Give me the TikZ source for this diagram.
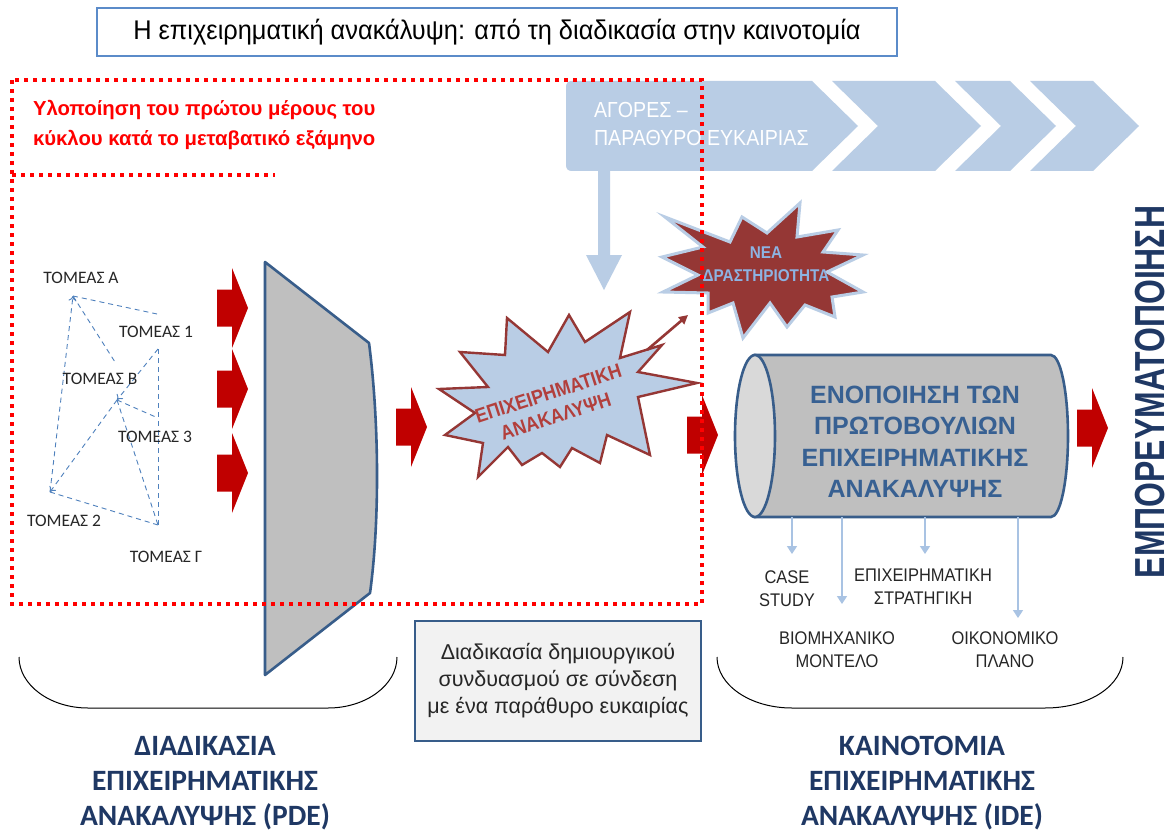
\documentclass[tikz,border=0pt]{standalone}
\usepackage{fontspec}
\setmainfont{Liberation Sans}
\newfontfamily\nf[FakeStretch=0.9]{Liberation Sans}
\newfontfamily\tf[FakeStretch=0.94]{Liberation Sans}
\newfontfamily\vnf[FakeStretch=0.76]{Liberation Sans}
\newfontfamily\calf{Carlito}
\usetikzlibrary{arrows.meta}
\definecolor{darkred}{HTML}{C00000}
\definecolor{brick}{HTML}{953735}
\definecolor{brickt}{HTML}{B23F3C}
\definecolor{lblue}{HTML}{B9CDE5}
\definecolor{steel}{HTML}{385D8A}
\definecolor{navy}{HTML}{1F3864}
\definecolor{cyltext}{HTML}{376092}
\definecolor{dashblue}{HTML}{4F81BD}
\definecolor{boxgrey}{HTML}{F2F2F2}
\definecolor{shapegrey}{HTML}{BFBFBF}
\definecolor{facegrey}{HTML}{D9D9D9}
\definecolor{titleblue}{HTML}{5B8BC9}
\definecolor{starblue}{HTML}{8DB3E2}
\definecolor{thinblue}{HTML}{A9C3E3}
\tikzset{
  redarr/.pic={\fill[darkred] (-31,-18.5) -- (-16,-18.5) -- (-16,-40) -- (0,0) -- (-16,40) -- (-16,18.5) -- (-31,18.5) -- cycle;},
  reddot/.style={draw=red, line width=4pt, dash pattern=on 4pt off 5pt},
  dl/.style={draw=dashblue, line width=0.9pt, dash pattern=on 5pt off 4pt},
  sector/.style={font=\calf\fontsize{17.5}{20}\selectfont, text=black!85},
  subl/.style={font=\nf\fontsize{18.3}{23}\selectfont, align=center, text=black!85},
  bottoml/.style={font=\calf\bfseries\fontsize{29.5}{35}\selectfont, align=center, text=navy},
  smallarr/.style={draw=thinblue, line width=1.6pt, -{Triangle[length=8pt,width=10pt]}},
  brace/.style={draw=black, line width=1pt},
}
\begin{document}
\begin{tikzpicture}[x=1pt,y=-1pt, every node/.style={inner sep=0pt, outer sep=0pt}]
\useasboundingbox (0,0) rectangle (1173,832);
\fill[white] (0,0) rectangle (1173,832);

% title
\node[draw=titleblue, line width=1.2pt, minimum width=800pt, minimum height=48pt] (title) at (497,32)
  {\tf\fontsize{27}{30}\selectfont Η επιχειρηματική ανακάλυψη: από τη διαδικασία στην καινοτομία};

% chevrons
\fill[lblue] (572,81) -- (812,81) -- (858,126) -- (812,171) -- (572,171) .. controls (568,171) and (566,169) .. (566,165) -- (566,87) .. controls (566,83) and (568,81) .. (572,81) -- cycle;
\fill[lblue] (832,81) -- (935,81) -- (981,126) -- (935,171) -- (832,171) -- (878,126) -- cycle;
\fill[lblue] (955,81) -- (1010,81) -- (1056,126) -- (1010,171) -- (955,171) -- (1001,126) -- cycle;
\fill[lblue] (1030,81) -- (1093,81) -- (1139,126) -- (1093,171) -- (1030,171) -- (1076,126) -- cycle;
\node[anchor=west, align=left, text=white, font=\nf\fontsize{21.8}{28}\selectfont] (agores) at (594,124) {ΑΓΟΡΕΣ –\\ΠΑΡΑΘΥΡΟ ΕΥΚΑΙΡΙΑΣ};
% vertical light blue arrow
\fill[lblue] (598,171) -- (610,171) -- (610,255) -- (622,255) -- (604,290) -- (586,255) -- (598,255) -- cycle;

% red text
\node[anchor=west, align=left, text=red, font=\bfseries\fontsize{20.3}{30}\selectfont] (redtxt) at (33,125)
  {Υλοποίηση του πρώτου μέρους του\\κύκλου κατά το μεταβατικό εξάμηνο};

% sector network
\coordinate (pA) at (73,296);
\coordinate (p1) at (158,349);
\coordinate (pB) at (117,400);
\coordinate (p3) at (158,418);
\coordinate (p2) at (50,492);
\coordinate (pG) at (158,525);
\coordinate (qA1) at (157,314);
\coordinate (qAB) at (115,362);
\draw[dl] (pA) -- (qA1);
\draw[dl] (pA) -- (qAB);
\draw[dl, -{To[length=5pt,width=8pt]}] (p2) -- (pA);
\draw[dl, -{To[length=5pt,width=8pt]}] (p1) -- (pB);
\draw[dl, -{To[length=5pt,width=8pt]}] (pB) -- (p2);
\draw[dl] (p1) -- (pG);
\draw[dl] (pB) -- (p3);
\draw[dl] (pB) -- (pG);
\draw[dl] (p2) -- (pG);
\node[sector] (tA) at (81,278) {ΤΟΜΕΑΣ Α};
\node[sector] (t1) at (156,332) {ΤΟΜΕΑΣ 1};
\node[sector] (tB) at (100,379) {ΤΟΜΕΑΣ Β};
\node[sector] (t3) at (155,437) {ΤΟΜΕΑΣ 3};
\node[sector] (t2) at (64,521) {ΤΟΜΕΑΣ 2};
\node[sector] (tG) at (166,557) {ΤΟΜΕΑΣ Γ};

% red block arrows
\pic (ra1) at (248,308) {redarr};
\pic (ra2) at (248,389) {redarr};
\pic (ra3) at (248,473) {redarr};
\pic (ra4) at (427,427) {redarr};
\pic (ra5) at (718,435) {redarr};
\pic (ra6) at (1108,428) {redarr};

% funnel
\draw[steel, fill=shapegrey, line width=2.6pt, line join=round] (265,262) -- (369,343) .. controls (379,420) and (380,520) .. (370,593) -- (265,675) -- cycle;

% star 1
\draw[brick, fill=lblue, line width=2.4pt, line join=miter] (439,389) -- (488,387) -- (460,352) -- (505,355) -- (507,318) -- (548,352) -- (569,315) -- (585,342) -- (630,312) -- (620,358) -- (662,345) -- (638,372) -- (697,383) -- (638,397) -- (650,455) -- (607,435) -- (600,463) -- (572,448) -- (560,467) -- (542,453) -- (522,465) -- (508,447) -- (478,477) -- (483,443) -- (445,435) -- (475,413) -- cycle;
\node[rotate=18, align=center, text=brickt, font=\nf\bfseries\fontsize{20}{24}\selectfont] (star1) at (552,405) {ΕΠΙΧΕΙΡΗΜΑΤΙΚΗ\\ΑΝΑΚΑΛΥΨΗ};
\coordinate (s1out) at (647,350);

% star 2
\draw[lblue, fill=brick, line width=3pt, line join=miter] (665,217) -- (730,242) -- (742,217) -- (767,233) -- (800,203) -- (797,237) -- (838,230) -- (823,252) -- (863,255) -- (827,272) -- (863,292) -- (832,297) -- (835,317) -- (805,305) -- (787,327) -- (770,303) -- (743,338) -- (733,303) -- (708,313) -- (708,293) -- (663,292) -- (698,275) -- (662,257) -- (703,247) -- cycle;
\node[align=center, text=starblue, font=\nf\bfseries\fontsize{17}{23}\selectfont] (star2) at (766,264) {ΝΕΑ\\ΔΡΑΣΤΗΡΙΟΤΗΤΑ};
\coordinate (s2in) at (688,315);
\draw[brick, line width=2.6pt, -{Triangle[length=9pt,width=9pt]}] (s1out) -- (s2in);

% cylinder
\draw[steel, fill=shapegrey, line width=2.6pt] (755,355) -- (1051,355) .. controls (1060.4,355) and (1068,391.3) .. (1068,436) .. controls (1068,480.7) and (1060.4,517) .. (1051,517) -- (755,517) -- cycle;
\draw[steel, fill=facegrey, line width=2.6pt] (755,436) ellipse [x radius=20, y radius=81];
\node[align=center, text=cyltext, font=\bfseries\fontsize{25}{31.5}\selectfont] (cyl) at (915,442)
  {ΕΝΟΠΟΙΗΣΗ ΤΩΝ\\ΠΡΩΤΟΒΟΥΛΙΩΝ\\ΕΠΙΧΕΙΡΗΜΑΤΙΚΗΣ\\ΑΝΑΚΑΛΥΨΗΣ};

% outputs under cylinder
\coordinate (c1) at (792,517); \coordinate (e1) at (792,554);
\coordinate (c2) at (842,517); \coordinate (e2) at (842,604);
\coordinate (c3) at (925,517); \coordinate (e3) at (925,554);
\coordinate (c4) at (1018,517); \coordinate (e4) at (1018,618);
\draw[smallarr] (c1) -- (e1);
\draw[smallarr] (c2) -- (e2);
\draw[smallarr] (c3) -- (e3);
\draw[smallarr] (c4) -- (e4);
\node[subl] (case) at (787,589) {CASE\\STUDY};
\node[subl] (strat) at (923,587) {ΕΠΙΧΕΙΡΗΜΑΤΙΚΗ\\ΣΤΡΑΤΗΓΙΚΗ};
\node[subl] (biom) at (837,650) {ΒΙΟΜΗΧΑΝΙΚΟ\\ΜΟΝΤΕΛΟ};
\node[subl] (oik) at (1005,650) {ΟΙΚΟΝΟΜΙΚΟ\\ΠΛΑΝΟ};

% vertical label
\node[rotate=90, text=navy, font=\vnf\bfseries\fontsize{42}{42}\selectfont] (emp) at (1150,392) {ΕΜΠΟΡΕΥΜΑΤΟΠΟΙΗΣΗ};

% text box
\node[draw=steel, fill=boxgrey, line width=2pt, minimum width=286pt, minimum height=120pt, align=center,
      font=\fontsize{21.5}{27}\selectfont, text=black!85] (box) at (558,681)
  {Διαδικασία δημιουργικού\\συνδυασμού σε σύνδεση\\με ένα παράθυρο ευκαιρίας};

% braces
\draw[brace] (19,657) .. controls (19,685) and (50,708) .. (88,708) -- (328,708) .. controls (366,708) and (397,685) .. (397,657);
\draw[brace] (717,657) .. controls (717,685) and (750,708) .. (792,708) -- (1045,708) .. controls (1090,708) and (1123,685) .. (1123,657);

% bottom labels
\node[bottoml] (pde) at (205,783) {ΔΙΑΔΙΚΑΣΙΑ\\ΕΠΙΧΕΙΡΗΜΑΤΙΚΗΣ\\ΑΝΑΚΑΛΥΨΗΣ (PDE)};
\node[bottoml] (ide) at (922,783) {ΚΑΙΝΟΤΟΜΙΑ\\ΕΠΙΧΕΙΡΗΜΑΤΙΚΗΣ\\ΑΝΑΚΑΛΥΨΗΣ (IDE)};

% red dotted frame (on top)
\draw[reddot] (12,80) rectangle (702,604);
\draw[reddot] (12,175) -- (275,175);
\end{tikzpicture}
\end{document}
